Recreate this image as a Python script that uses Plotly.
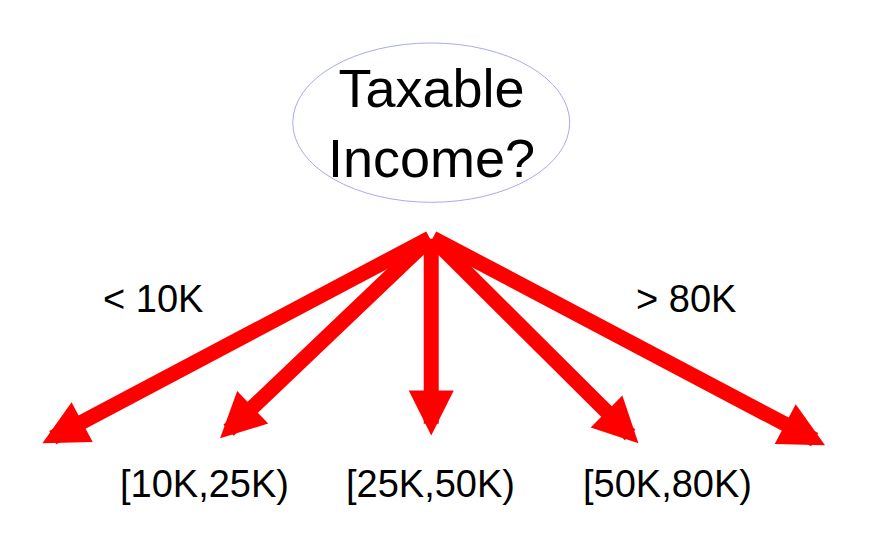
import plotly.graph_objects as go

# branch labels and arrow tips (pixel-like canvas coordinates, y downward)
root_label = "Taxable<br>Income?"
root_center = (431, 118)
root_radius = (141, 82)
arrow_origin = (431, 236)
tip_x = [35, 216, 431, 642, 832]
tip_y = [448, 443, 440, 448, 450]
branch_labels = ["< 10K", "[10K,25K)", "[25K,50K)", "[50K,80K)", "> 80K"]
label_x = [148, 200, 430, 672, 690]
label_y = [300, 490, 490, 490, 300]

fig = go.Figure()
cx, cy = root_center
rx, ry = root_radius
fig.add_shape(type="circle", x0=cx - rx, x1=cx + rx, y0=cy - ry, y1=cy + ry,
              line=dict(color="#a9a9f0", width=1), fillcolor="white")
fig.add_annotation(x=cx, y=cy, text=root_label, showarrow=False,
                   font=dict(family="Liberation Sans, Arial", size=54, color="black"))

for x, y in zip(tip_x, tip_y):
    fig.add_annotation(x=x, y=y, ax=arrow_origin[0], ay=arrow_origin[1],
                       xref="x", yref="y", axref="x", ayref="y", text="",
                       showarrow=True, arrowhead=2, arrowsize=0.6, arrowwidth=15,
                       arrowcolor="#ff0000", standoff=0, startstandoff=0)

for t, x, y in zip(branch_labels, label_x, label_y):
    fig.add_annotation(x=x, y=y, text=t, showarrow=False,
                       font=dict(family="Liberation Sans, Arial", size=38, color="black"))

fig.update_xaxes(range=[0, 888], visible=False)
fig.update_yaxes(range=[560, 0], visible=False)
fig.update_layout(margin=dict(l=0, r=0, t=0, b=0),
                  plot_bgcolor="white", paper_bgcolor="white", showlegend=False)
fig.write_html("out.html")
